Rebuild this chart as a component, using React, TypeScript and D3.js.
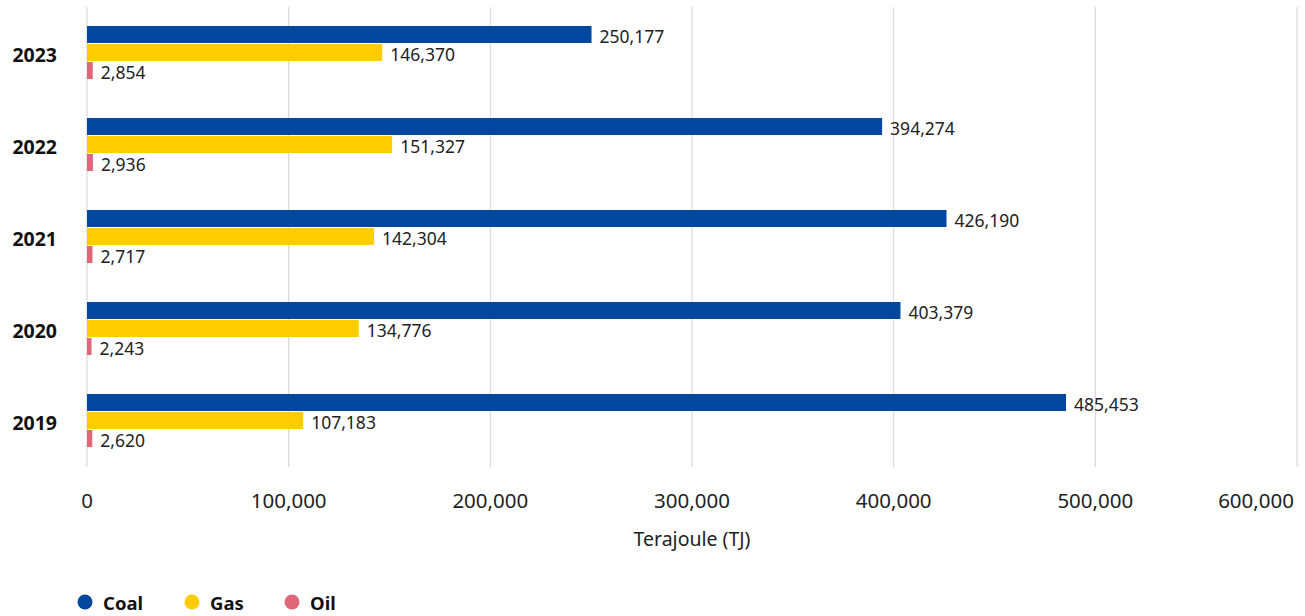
import React from "react";
import * as d3 from "d3";

const years = ["2023", "2022", "2021", "2020", "2019"];
const series = ["Coal", "Gas", "Oil"];
const coal = [250177, 394274, 426190, 403379, 485453];
const gas = [146370, 151327, 142304, 134776, 107183];
const oil = [2854, 2936, 2717, 2243, 2620];
const ticks = [0, 100000, 200000, 300000, 400000, 500000, 600000];
const colors = ["#00479D", "#FFCC00", "#E0677A"];

export default function App() {
  const W = 1305, H = 616;
  const values = [coal, gas, oil];
  const x = d3.scaleLinear().domain([0, 600000]).range([87, 1297]);
  const y = d3.scaleBand().domain(years).range([7, 467]).paddingInner(0).paddingOuter(0);
  const barStep = 18;
  const barH = 17;
  const fmt = d3.format(",");
  const font = "'Noto Sans', 'Open Sans', sans-serif";
  const legendX = [85, 192, 292];
  return (
    <svg width={W} height={H} style={{ position: "absolute", left: 0, top: 0, fontFamily: font }}>
      <rect width={W} height={H} fill="#fff" />
      {ticks.map((t) => (
        <line key={t} x1={x(t)} x2={x(t)} y1={7} y2={467} stroke="#D9D9D9" strokeWidth={1.2} />
      ))}
      {years.map((yr, i) => {
        const c = y(yr)! + y.bandwidth() / 2;
        const top = c - (barStep * 3) / 2;
        return (
          <g key={yr}>
            <text x={57} y={c + 1} textAnchor="end" dominantBaseline="central" fontSize={19.5} fontWeight={700} fill="#111">
              {yr}
            </text>
            {values.map((vals, s) => {
              const by = top + s * barStep;
              return (
                <g key={s}>
                  <rect x={x(0)} y={by} width={x(vals[i]) - x(0)} height={barH} fill={colors[s]} />
                  <text x={x(vals[i]) + 8} y={by + barH / 2 + 1} dominantBaseline="central" fontSize={17.5} fill="#222">
                    {fmt(vals[i])}
                  </text>
                </g>
              );
            })}
          </g>
        );
      })}
      {ticks.map((t, i) => {
        const last = i === ticks.length - 1;
        return (
          <text
            key={"l" + t}
            x={last ? 1294 : x(t)}
            y={500}
            textAnchor={last ? "end" : "middle"}
            dominantBaseline="central"
            fontSize={20.5}
            fill="#222"
          >
            {fmt(t)}
          </text>
        );
      })}
      <text x={692} y={538} textAnchor="middle" dominantBaseline="central" fontSize={19.5} fill="#222">
        Terajoule (TJ)
      </text>
      {series.map((s, i) => (
        <g key={s}>
          <circle cx={legendX[i]} cy={602} r={7.5} fill={colors[i]} />
          <text x={legendX[i] + 18} y={602} dominantBaseline="central" fontSize={18.5} fontWeight={700} fill="#111">
            {s}
          </text>
        </g>
      ))}
    </svg>
  );
}
